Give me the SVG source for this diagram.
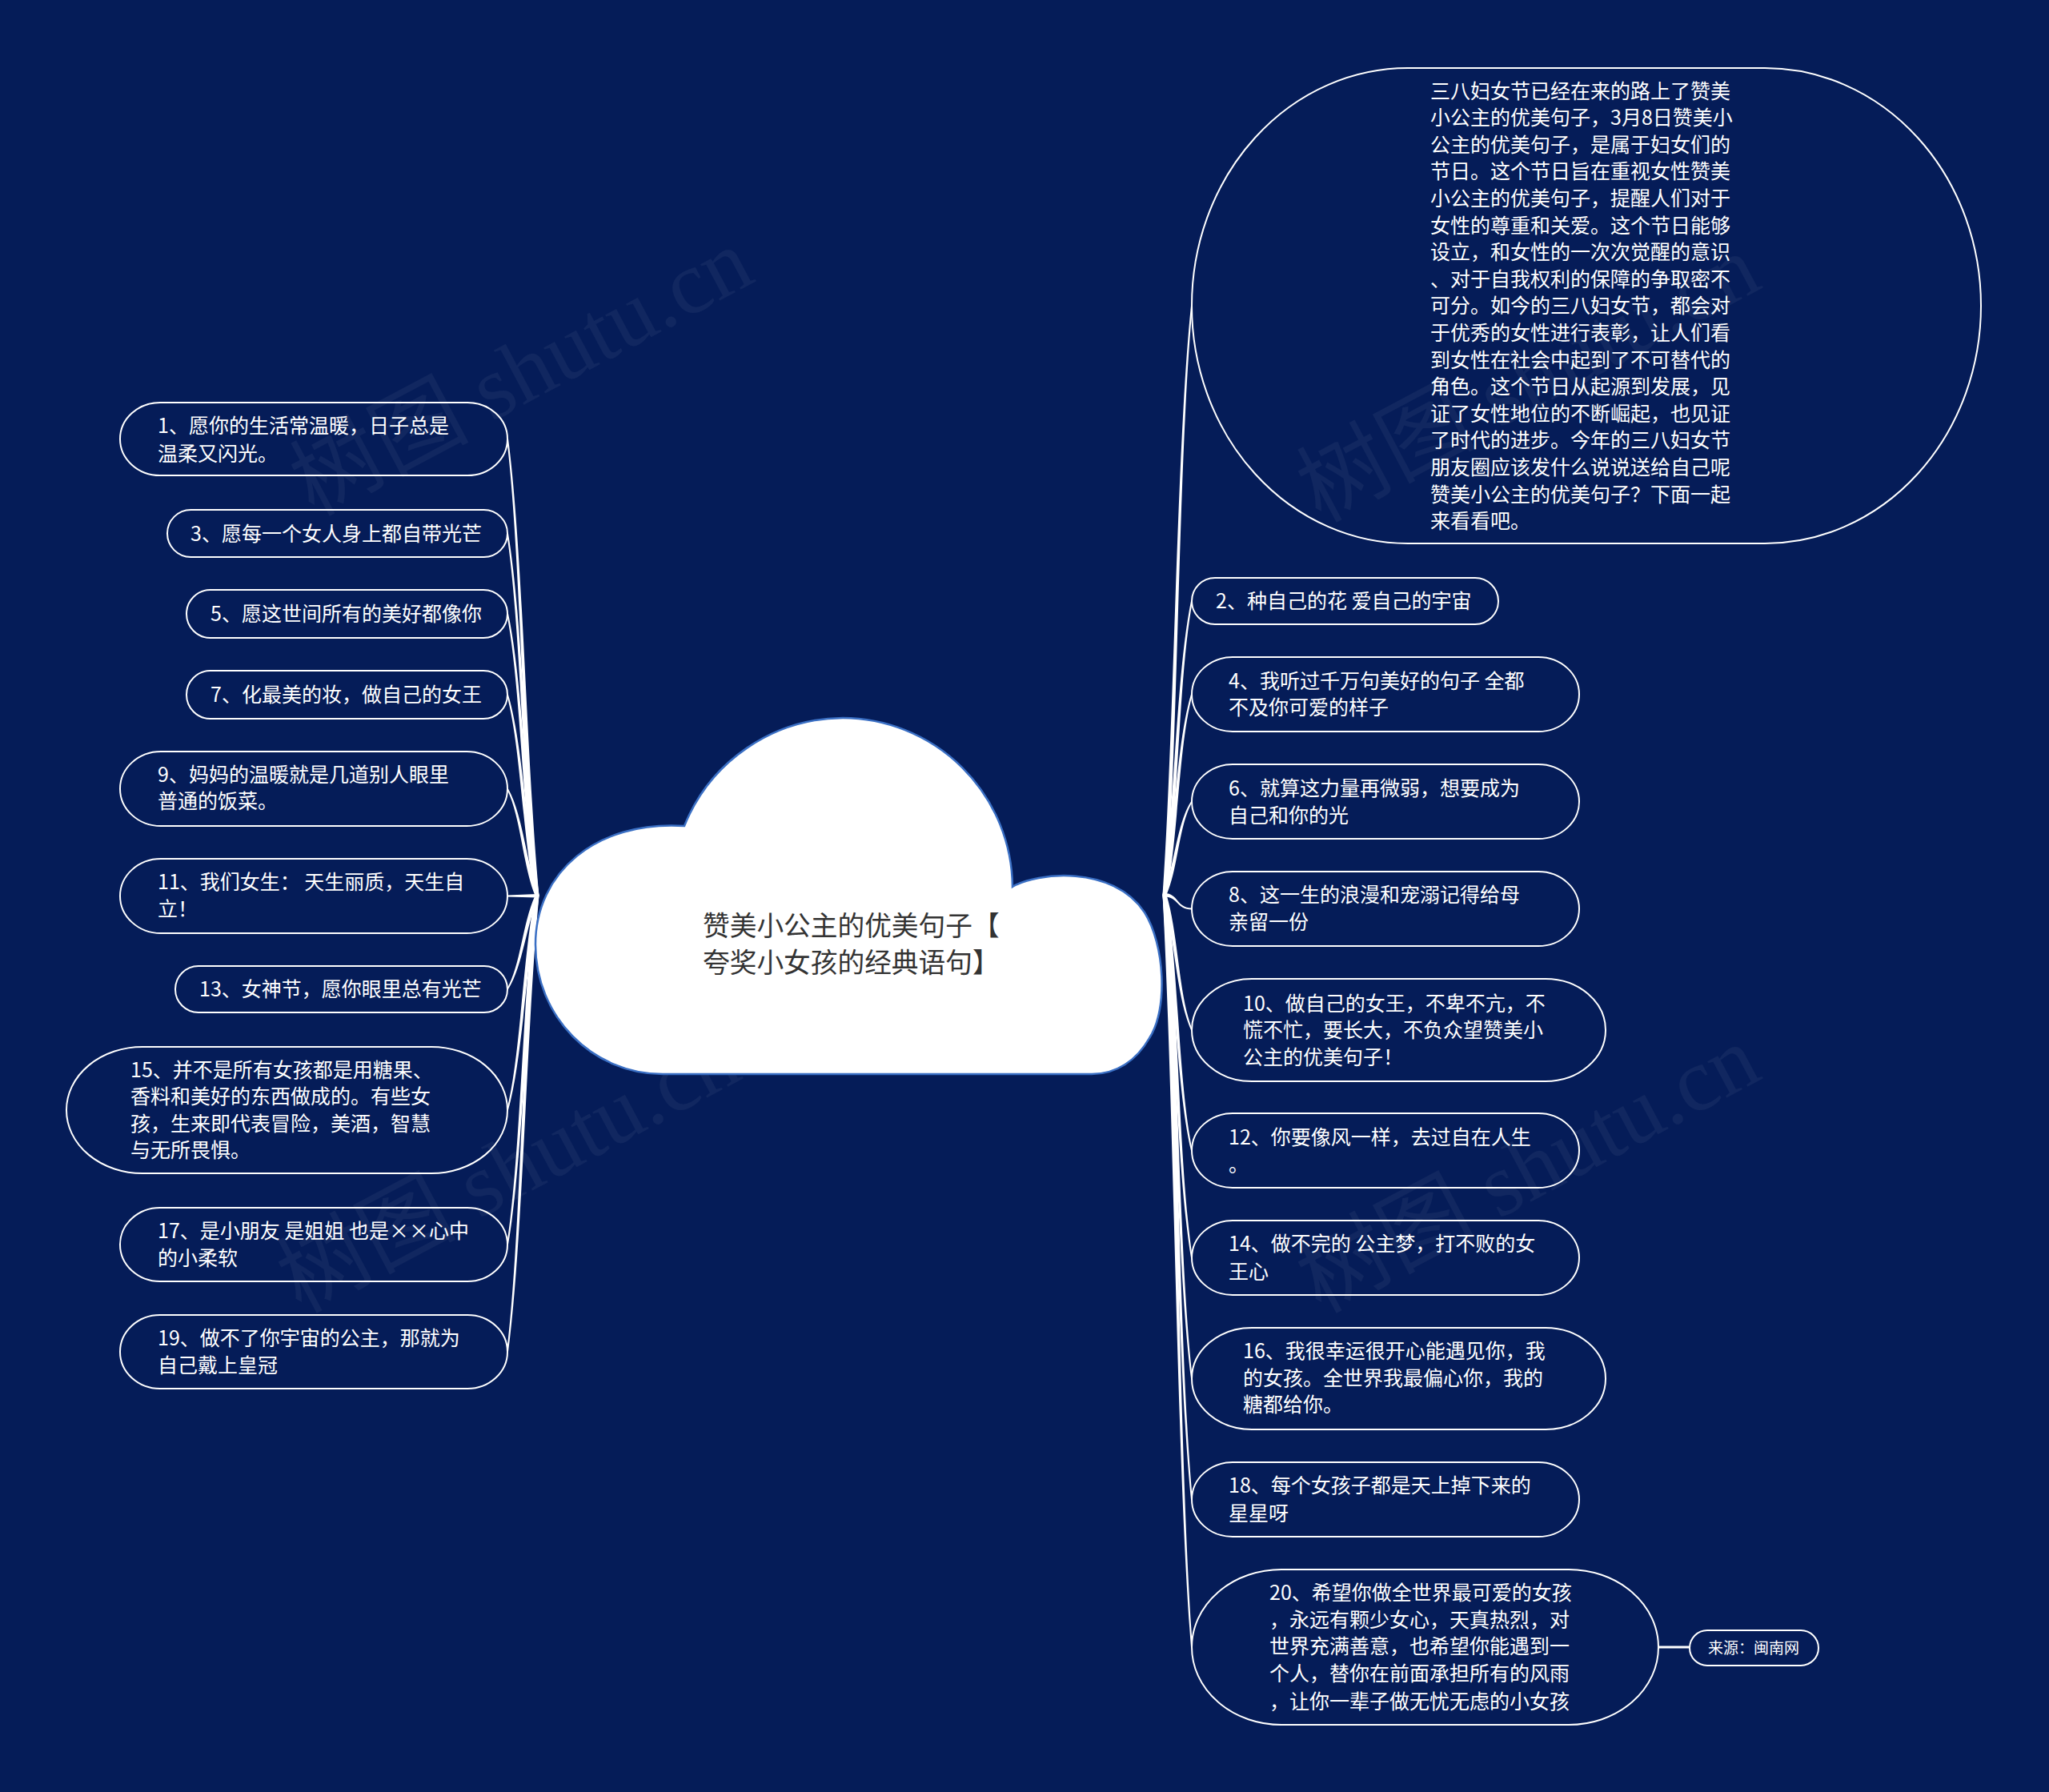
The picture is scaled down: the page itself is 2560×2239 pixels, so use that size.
<svg xmlns="http://www.w3.org/2000/svg" width="2560" height="2239" viewBox="0 0 2560 2239">
<style>
.bg{fill:#051c58}
.wm{font-family:"Liberation Serif","Noto Sans CJK SC",serif;font-size:112px;fill:#ffffff;fill-opacity:0.05}
.n{fill:none;stroke:#ffffff;stroke-width:2}
.t{font-family:"Noto Sans CJK SC","Noto Sans",sans-serif;font-size:25px;fill:#ffffff}
.ts{font-family:"Noto Sans CJK SC","Noto Sans",sans-serif;font-size:19px;fill:#ffffff}
.c{fill:#ffffff}
.title{font-family:"Noto Sans CJK SC","Noto Sans",sans-serif;font-size:33.7px;fill:#333333}
.cloud{fill:#ffffff;stroke:#3a6fc4;stroke-width:2.5}
</style>
<rect class="bg" x="0" y="0" width="2560" height="2239"/>
<g id="watermarks">
<text class="wm" x="669" y="498" text-anchor="middle" transform="rotate(-28 669 498)">树图 shutu.cn</text>
<text class="wm" x="1927" y="506" text-anchor="middle" transform="rotate(-28 1927 506)">树图 shutu.cn</text>
<text class="wm" x="653" y="1494" text-anchor="middle" transform="rotate(-28 653 1494)">树图 shutu.cn</text>
<text class="wm" x="1927" y="1494" text-anchor="middle" transform="rotate(-28 1927 1494)">树图 shutu.cn</text>
</g>
<g id="connectors">
<path class="c" d="M633 548 C650.5 690.75 652.5 947.7 668.5 1119 L673.5 1119 C657.5 947.7 653.5 690.75 635 548 Z"/>
<path class="c" d="M633 666.5 C650.5 779.6 652.5 983.25 668.5 1119 L673.5 1119 C657.5 983.25 653.5 779.6 635 666.5 Z"/>
<path class="c" d="M633 766.5 C650.5 854.6 652.5 1013.25 668.5 1119 L673.5 1119 C657.5 1013.25 653.5 854.6 635 766.5 Z"/>
<path class="c" d="M633 868 C650.5 930.75 652.5 1043.7 668.5 1119 L673.5 1119 C657.5 1043.7 653.5 930.75 635 868 Z"/>
<path class="c" d="M633 985.5 C650.5 1018.9 652.5 1079 668.5 1119 L673.5 1119 C657.5 1079 653.5 1018.9 635 985.5 Z"/>
<path class="c" d="M634 1118.5 L671 1117 L671 1121.5 L634 1120.5 Z"/>
<path class="c" d="M633 1236 C650.5 1206.75 652.5 1154.1 668.5 1119 L673.5 1119 C657.5 1154.1 653.5 1206.75 635 1236 Z"/>
<path class="c" d="M633 1387 C650.5 1320 652.5 1199.4 668.5 1119 L673.5 1119 C657.5 1199.4 653.5 1320 635 1387 Z"/>
<path class="c" d="M633 1555 C650.5 1446 652.5 1249.8 668.5 1119 L673.5 1119 C657.5 1249.8 653.5 1446 635 1555 Z"/>
<path class="c" d="M633 1689 C650.5 1546.5 652.5 1290 668.5 1119 L673.5 1119 C657.5 1290 653.5 1546.5 635 1689 Z"/>
<path class="c" d="M1490 382 C1472.5 566 1472.5 897.2 1457.5 1118 L1452.5 1118 C1467.5 897.2 1469.5 566 1488 382 Z"/>
<path class="c" d="M1490 751 C1472.5 842.75 1472.5 1007.9 1457.5 1118 L1452.5 1118 C1467.5 1007.9 1469.5 842.75 1488 751 Z"/>
<path class="c" d="M1490 867.5 C1472.5 930.1 1472.5 1042.85 1457.5 1118 L1452.5 1118 C1467.5 1042.85 1469.5 930.1 1488 867.5 Z"/>
<path class="c" d="M1490 1001.5 C1472.5 1030.6 1472.5 1083.05 1457.5 1118 L1452.5 1118 C1467.5 1083.05 1469.5 1030.6 1488 1001.5 Z"/>
<path class="c" d="M1455 1116 C1472 1116 1470 1134.5 1489 1134.5 L1489 1136.5 C1470 1136.5 1472 1120.5 1455 1120.5 Z"/>
<path class="c" d="M1490 1287 C1472.5 1244.75 1472.5 1168.7 1457.5 1118 L1452.5 1118 C1467.5 1168.7 1469.5 1244.75 1488 1287 Z"/>
<path class="c" d="M1490 1437.5 C1472.5 1357.6 1472.5 1213.85 1457.5 1118 L1452.5 1118 C1467.5 1213.85 1469.5 1357.6 1488 1437.5 Z"/>
<path class="c" d="M1490 1571.5 C1472.5 1458.1 1472.5 1254 1457.5 1118 L1452.5 1118 C1467.5 1254 1469.5 1458.1 1488 1571.5 Z"/>
<path class="c" d="M1490 1722 C1472.5 1571 1472.5 1299.2 1457.5 1118 L1452.5 1118 C1467.5 1299.2 1469.5 1571 1488 1722 Z"/>
<path class="c" d="M1490 1873.5 C1472.5 1684.6 1472.5 1344.65 1457.5 1118 L1452.5 1118 C1467.5 1344.65 1469.5 1684.6 1488 1873.5 Z"/>
<path class="c" d="M1490 2058 C1472.5 1823 1472.5 1400 1457.5 1118 L1452.5 1118 C1467.5 1400 1469.5 1823 1488 2058 Z"/>
<line x1="2072" y1="2058" x2="2111" y2="2058" stroke="#ffffff" stroke-width="3"/>
</g>
<g id="center">
<path class="cloud" d="M828 1342 C740 1342 669 1270 669 1180 C669 1090 745 1025 855 1032 A215 215 0 0 1 1053 897 A213 213 0 0 1 1265 1108 C1295 1090 1390 1080 1430 1140 C1455 1180 1460 1260 1436 1297 C1420 1325 1395 1342 1364 1342 Z"/>
<text class="title" x="878" y="1168.5">赞美小公主的优美句子【</text>
<text class="title" x="878" y="1214.5">夸奖小女孩的经典语句】</text>
</g>
<g id="intro">
<rect class="n" x="1489" y="85" width="986" height="594" rx="270" ry="297"/>
<text class="t" x="1787" y="122.5">三八妇女节已经在来的路上了赞美</text>
<text class="t" x="1787" y="156.1">小公主的优美句子，3月8日赞美小</text>
<text class="t" x="1787" y="189.7">公主的优美句子，是属于妇女们的</text>
<text class="t" x="1787" y="223.3">节日。这个节日旨在重视女性赞美</text>
<text class="t" x="1787" y="256.9">小公主的优美句子，提醒人们对于</text>
<text class="t" x="1787" y="290.5">女性的尊重和关爱。这个节日能够</text>
<text class="t" x="1787" y="324.1">设立，和女性的一次次觉醒的意识</text>
<text class="t" x="1787" y="357.7">、对于自我权利的保障的争取密不</text>
<text class="t" x="1787" y="391.3">可分。如今的三八妇女节，都会对</text>
<text class="t" x="1787" y="424.9">于优秀的女性进行表彰，让人们看</text>
<text class="t" x="1787" y="458.5">到女性在社会中起到了不可替代的</text>
<text class="t" x="1787" y="492.1">角色。这个节日从起源到发展，见</text>
<text class="t" x="1787" y="525.7">证了女性地位的不断崛起，也见证</text>
<text class="t" x="1787" y="559.3">了时代的进步。今年的三八妇女节</text>
<text class="t" x="1787" y="592.9">朋友圈应该发什么说说送给自己呢</text>
<text class="t" x="1787" y="626.5">赞美小公主的优美句子？下面一起</text>
<text class="t" x="1787" y="660.1">来看看吧。</text>
</g>
<g id="n1">
<rect class="n" x="150" y="503" width="484" height="91" rx="50" ry="45.5"/>
<text class="t" x="197" y="541">1、愿你的生活常温暖，日子总是</text>
<text class="t" x="197" y="576">温柔又闪光。</text>
</g>
<g id="n3">
<rect class="n" x="209" y="637" width="425" height="59" rx="29.5" ry="29.5"/>
<text class="t" x="238" y="675.5">3、愿每一个女人身上都自带光芒</text>
</g>
<g id="n5">
<rect class="n" x="233" y="737" width="401" height="60" rx="30" ry="30"/>
<text class="t" x="263" y="775.5">5、愿这世间所有的美好都像你</text>
</g>
<g id="n7">
<rect class="n" x="233" y="838" width="401" height="60" rx="30" ry="30"/>
<text class="t" x="263" y="877">7、化最美的妆，做自己的女王</text>
</g>
<g id="n9">
<rect class="n" x="150" y="939" width="484" height="93" rx="51" ry="46.5"/>
<text class="t" x="197" y="977">9、妈妈的温暖就是几道别人眼里</text>
<text class="t" x="197" y="1010">普通的饭菜。</text>
</g>
<g id="n11">
<rect class="n" x="150" y="1073" width="484" height="93" rx="51" ry="46.5"/>
<text class="t" x="197" y="1111">11、我们女生： 天生丽质，天生自</text>
<text class="t" x="197" y="1145">立！</text>
</g>
<g id="n13">
<rect class="n" x="219" y="1207" width="415" height="58" rx="29" ry="29"/>
<text class="t" x="249" y="1245">13、女神节，愿你眼里总有光芒</text>
</g>
<g id="n15">
<rect class="n" x="83" y="1308" width="551" height="158" rx="95" ry="79"/>
<text class="t" x="163" y="1346">15、并不是所有女孩都是用糖果、</text>
<text class="t" x="163" y="1379">香料和美好的东西做成的。有些女</text>
<text class="t" x="163" y="1413">孩，生来即代表冒险，美酒，智慧</text>
<text class="t" x="163" y="1446">与无所畏惧。</text>
</g>
<g id="n17">
<rect class="n" x="150" y="1509" width="484" height="92" rx="50" ry="46"/>
<text class="t" x="197" y="1547">17、是小朋友 是姐姐 也是××心中</text>
<text class="t" x="197" y="1581">的小柔软</text>
</g>
<g id="n19">
<rect class="n" x="150" y="1643" width="484" height="92" rx="50" ry="46"/>
<text class="t" x="197" y="1681">19、做不了你宇宙的公主，那就为</text>
<text class="t" x="197" y="1715">自己戴上皇冠</text>
</g>
<g id="n2">
<rect class="n" x="1489" y="722" width="383" height="58" rx="29" ry="29"/>
<text class="t" x="1519" y="760">2、种自己的花 爱自己的宇宙</text>
</g>
<g id="n4">
<rect class="n" x="1489" y="821" width="484" height="93" rx="51" ry="46.5"/>
<text class="t" x="1535" y="860">4、我听过千万句美好的句子 全都</text>
<text class="t" x="1535" y="893">不及你可爱的样子</text>
</g>
<g id="n6">
<rect class="n" x="1489" y="955" width="484" height="93" rx="51" ry="46.5"/>
<text class="t" x="1535" y="994">6、就算这力量再微弱，想要成为</text>
<text class="t" x="1535" y="1028">自己和你的光</text>
</g>
<g id="n8">
<rect class="n" x="1489" y="1089" width="484" height="93" rx="51" ry="46.5"/>
<text class="t" x="1535" y="1127">8、这一生的浪漫和宠溺记得给母</text>
<text class="t" x="1535" y="1161">亲留一份</text>
</g>
<g id="n10">
<rect class="n" x="1489" y="1223" width="517" height="128" rx="75" ry="64"/>
<text class="t" x="1553" y="1263">10、做自己的女王，不卑不亢，不</text>
<text class="t" x="1553" y="1296">慌不忙，要长大，不负众望赞美小</text>
<text class="t" x="1553" y="1330">公主的优美句子！</text>
</g>
<g id="n12">
<rect class="n" x="1489" y="1391" width="484" height="93" rx="51" ry="46.5"/>
<text class="t" x="1535" y="1430">12、你要像风一样，去过自在人生</text>
<text class="t" x="1535" y="1464">。</text>
</g>
<g id="n14">
<rect class="n" x="1489" y="1525" width="484" height="93" rx="51" ry="46.5"/>
<text class="t" x="1535" y="1563">14、做不完的 公主梦，打不败的女</text>
<text class="t" x="1535" y="1598">王心</text>
</g>
<g id="n16">
<rect class="n" x="1489" y="1659" width="517" height="127" rx="75" ry="63.5"/>
<text class="t" x="1553" y="1697">16、我很幸运很开心能遇见你，我</text>
<text class="t" x="1553" y="1731">的女孩。全世界我最偏心你，我的</text>
<text class="t" x="1553" y="1764">糖都给你。</text>
</g>
<g id="n18">
<rect class="n" x="1489" y="1827" width="484" height="93" rx="51" ry="46.5"/>
<text class="t" x="1535" y="1865">18、每个女孩子都是天上掉下来的</text>
<text class="t" x="1535" y="1900">星星呀</text>
</g>
<g id="n20">
<rect class="n" x="1489" y="1961" width="583" height="194" rx="112" ry="97"/>
<text class="t" x="1586" y="1999">20、希望你做全世界最可爱的女孩</text>
<text class="t" x="1586" y="2033">，永远有颗少女心，天真热烈，对</text>
<text class="t" x="1586" y="2066">世界充满善意，也希望你能遇到一</text>
<text class="t" x="1586" y="2100">个人，替你在前面承担所有的风雨</text>
<text class="t" x="1586" y="2135">，让你一辈子做无忧无虑的小女孩</text>
</g>
<g id="source">
<rect class="n" x="2111" y="2037" width="161" height="44" rx="22" ry="22"/>
<text class="ts" x="2134" y="2066">来源：闽南网</text>
</g>
</svg>
